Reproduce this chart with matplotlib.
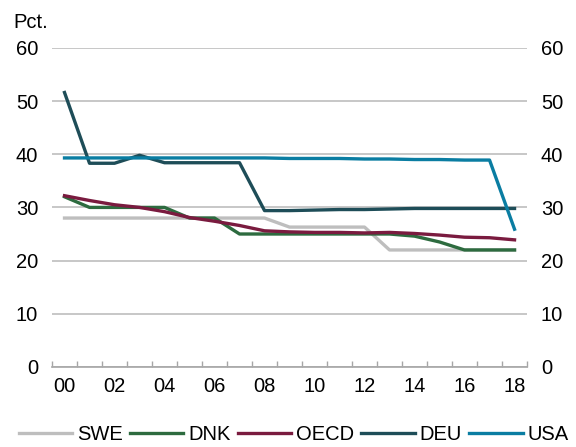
import numpy as np
from matplotlib import pyplot as plt

plt.rcParams['font.family'] = ['Liberation Sans', 'DejaVu Sans']

years = list(range(19))
year_labels = ['00', '02', '04', '06', '08', '10', '12', '14', '16', '18']

swe = [28, 28, 28, 28, 28, 28, 28, 28, 28, 26.3, 26.3, 26.3, 26.3, 22, 22, 22, 22, 22, 22]
dnk = [32, 30, 30, 30, 30, 28, 28, 25, 25, 25, 25, 25, 25, 25, 24.6, 23.5, 22, 22, 22]
oecd = [32.2, 31.3, 30.5, 30, 29.2, 28.1, 27.4, 26.6, 25.6, 25.4, 25.3, 25.3, 25.2, 25.3,
        25.1, 24.8, 24.4, 24.3, 23.9]
deu = [51.6, 38.3, 38.3, 39.8, 38.4, 38.4, 38.4, 38.4, 29.4, 29.4, 29.5, 29.6, 29.6, 29.7,
       29.8, 29.8, 29.8, 29.8, 29.8]
usa = [39.3, 39.3, 39.3, 39.3, 39.3, 39.3, 39.3, 39.3, 39.3, 39.2, 39.2, 39.2, 39.1, 39.1,
       39.0, 39.0, 38.9, 38.9, 25.9]

fs = 14.5

fig = plt.figure(figsize=(5.76, 4.47), dpi=100)
ax = fig.add_axes([0.0903, 0.179, 0.8247, 0.714])

ax.plot(years, swe, color='#BEBEBE', lw=2.4, label='SWE')
ax.plot(years, dnk, color='#2D6B3F', lw=2.4, label='DNK')
ax.plot(years, oecd, color='#7A1B3F', lw=2.4, label='OECD')
ax.plot(years, deu, color='#1E4D58', lw=2.4, label='DEU')
ax.plot(years, usa, color='#0A7DA2', lw=2.4, label='USA')

ax.set_ylim(0, 60)
ax.set_xlim(-0.5, 18.5)
ax.set_yticks(range(0, 61, 10))
ax.yaxis.grid(True, color='#BEBEBE', lw=1.2)
ax.set_axisbelow(True)
ax.tick_params(axis='y', length=0, labelsize=fs, pad=10, labelright=True, right=False)

ax.set_xticks(np.arange(-0.5, 19, 1))
ax.set_xticklabels([])
ax.set_xticks(years[::2], minor=True)
ax.set_xticklabels(year_labels, minor=True)
ax.tick_params(axis='x', which='major', direction='in', length=4, color='#A6A6A6', width=1)
ax.tick_params(axis='x', which='minor', length=0, labelsize=fs, pad=7)

for s in ['top', 'left', 'right']:
    ax.spines[s].set_visible(False)
ax.spines['bottom'].set_color('#A6A6A6')
ax.spines['bottom'].set_linewidth(1.2)

fig.text(0.024, 0.937, 'Pct.', fontsize=fs, va='baseline')

fig.legend(loc='lower center', bbox_to_anchor=(0.51, -0.034), ncol=5, frameon=False,
           fontsize=fs, handlelength=2.65, handletextpad=0.25, columnspacing=0.35)

plt.savefig('out.png', dpi=100)
